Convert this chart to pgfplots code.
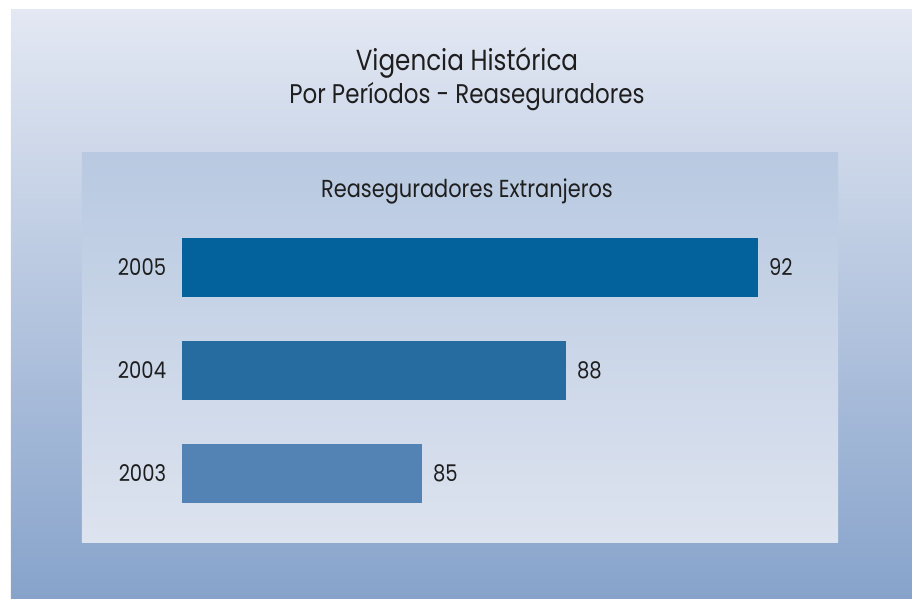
\documentclass[border=0pt]{standalone}
\usepackage{pgfplots}
\pgfplotsset{compat=1.18}
\usepackage{fontspec}
\setmainfont[FakeStretch=0.85]{Poppins}

\definecolor{bgtop}{HTML}{E3E8F3}
\definecolor{bgbot}{HTML}{87A3CB}
\definecolor{pantop}{HTML}{B8C9E1}
\definecolor{panbot}{HTML}{DDE3EF}
\definecolor{txt}{HTML}{1E1E1E}
\definecolor{bar05}{HTML}{03619B}
\definecolor{bar04}{HTML}{266CA1}
\definecolor{bar03}{HTML}{5283B4}

\begin{document}
\begin{tikzpicture}
% 1 px of the reference = 0.5pt, origin at lower left of the inner panel
\path[use as bounding box] (-41pt,-28pt) rectangle (415pt,271.5pt);
\shade[top color=bgtop, bottom color=bgbot] (-35.5pt,-28pt) rectangle (415pt,266.5pt);

\node[txt, font=\fontsize{14.5}{16}\selectfont] at (192.5pt,240pt) {Vigencia Histórica};
\node[txt, font=\fontsize{13.5}{15}\selectfont] at (192.5pt,223pt) {Por Períodos - Reaseguradores};

\begin{axis}[
    scale only axis,
    width=378pt, height=195pt,
    % bars start at 80
    x coord trafo/.code={\pgfmathparse{#1-80}},
    x coord inv trafo/.code={\pgfmathparse{#1+80}},
    xbar, bar shift=0pt, bar width=29.5pt,
    xmin=77.917, xmax=93.667,
    ymin=-0.6748, ymax=3.1117,
    axis background/.style={shade, top color=pantop, bottom color=panbot},
    axis line style={draw=none},
    tick style={draw=none},
    xtick=\empty,
    ytick={0,1,2},
    yticklabels={2003,2004,2005},
    yticklabel style={inner sep=0pt, xshift=46.5pt, text=txt, font=\fontsize{11.5}{13}\selectfont},
    /pgf/number format/assume math mode=true,
    nodes near coords,
    every node near coord/.append style={anchor=west, text=txt, font=\fontsize{11.5}{13}\selectfont, xshift=2pt},
    point meta=rawx,
]
\addplot[fill=bar03, draw=none] coordinates {(85,0)};
\addplot[fill=bar04, draw=none] coordinates {(88,1)};
\addplot[fill=bar05, draw=none] coordinates {(92,2)};
\end{axis}

\node[txt, font=\fontsize{12.3}{14}\selectfont] at (192.5pt,176pt) {Reaseguradores Extranjeros};
\end{tikzpicture}
\end{document}
